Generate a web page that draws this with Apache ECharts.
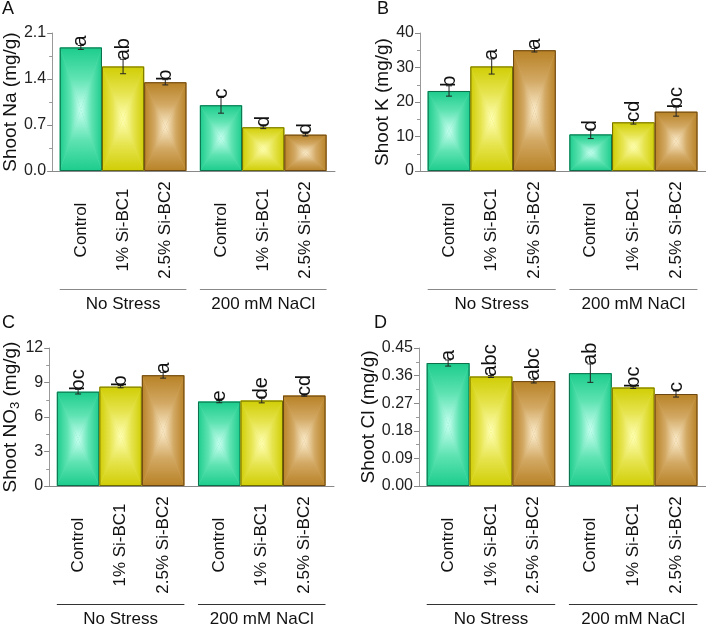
<!DOCTYPE html>
<html><head><meta charset="utf-8">
<script src="https://cdn.jsdelivr.net/npm/echarts@6/dist/echarts.min.js"></script>
<style>html,body{margin:0;padding:0;background:#fff}#c{width:706px;height:625px}</style>
</head><body><div id="c"></div>
<script>
// ---- data ----
const treatments = ['Control', '1% Si-BC1', '2.5% Si-BC2'];
const groups = ['No Stress', '200 mM NaCl'];
const panelLabels = ['A', 'B', 'C', 'D'];

const naMean = [1.88, 1.59, 1.35, 1.00, 0.665, 0.553];
const naErr = [0.03, 0.11, 0.04, 0.12, 0.02, 0.02];
const naLetters = ['a', 'ab', 'b', 'c', 'd', 'd'];
const naTicks = [0, 0.7, 1.4, 2.1];

const kMean = [23.2, 30.3, 35.0, 10.6, 14.1, 17.2];
const kErr = [1.5, 2.2, 0.5, 1.2, 0.5, 1.3];
const kLetters = ['b', 'a', 'a', 'd', 'cd', 'bc'];
const kTicks = [0, 10, 20, 30, 40];

const no3Mean = [8.2, 8.64, 9.63, 7.34, 7.43, 7.86];
const no3Err = [0.2, 0.1, 0.25, 0.1, 0.2, 0.05];
const no3Letters = ['bc', 'b', 'a', 'e', 'de', 'cd'];
const no3Ticks = [0, 3, 6, 9, 12];

const clMean = [0.401, 0.357, 0.342, 0.368, 0.321, 0.300];
const clErr = [0.01, 0.003, 0.006, 0.03, 0.003, 0.01];
const clLetters = ['a', 'abc', 'abc', 'ab', 'bc', 'c'];
const clTicks = [0, 0.09, 0.18, 0.27, 0.36, 0.45];

// ---- styling ----
const FONT = '"Liberation Sans", Arial, Helvetica, sans-serif';
const palette = [
  {edge: '#1ccc8c', mid: '#5fe3b3', center: '#c8fff0', border: '#0c6e4a'},
  {edge: '#d0cd05', mid: '#e6e44e', center: '#ffffb4', border: '#6e6b00'},
  {edge: '#b88226', mid: '#d2a863', center: '#fbeccc', border: '#6a4612'}
];

const panels = [
  {mean: naMean, err: naErr, letters: naLetters, ticks: naTicks, dec: 1, name: 'Shoot Na (mg/g)', nameGap: 22,
   grid: {left: 48, top: 33, width: 287, height: 138}, title: {left: 2, top: 0}, gline: '#888'},
  {mean: kMean, err: kErr, letters: kLetters, ticks: kTicks, dec: 0, name: 'Shoot K (mg/g)', nameGap: 22,
   grid: {left: 420, top: 33, width: 286, height: 138}, title: {left: 377, top: 0}, gline: '#888'},
  {mean: no3Mean, err: no3Err, letters: no3Letters, ticks: no3Ticks, dec: 0, name: '{t|Shoot NO}{s|3}{t| (mg/g)}', nameGap: 22,
   grid: {left: 41, top: 348, width: 293, height: 138}, title: {left: 2, top: 314}, gline: '#333'},
  {mean: clMean, err: clErr, letters: clLetters, ticks: clTicks, dec: 2, name: 'Shoot Cl (mg/g)', nameGap: 35,
   grid: {left: 419, top: 348, width: 287, height: 138}, title: {left: 374, top: 314}, gline: '#333'}
];

const X0 = 0.18, GSTEP = 3.32, XMAX = 6.7;
function barCenter(i) { return X0 + Math.floor(i / 3) * GSTEP + (i % 3) + 0.5; }

function lin(x, y, x2, y2, c0, c1, c2) {
  return {type: 'linear', x: x, y: y, x2: x2, y2: y2, global: false,
    colorStops: [{offset: 0, color: c0}, {offset: 0.5, color: c1}, {offset: 1, color: c2}]};
}

function barSeries(pi, p) {
  return {
    type: 'custom', xAxisIndex: pi, yAxisIndex: pi, clip: false, silent: true,
    encode: {x: 0, y: 1},
    data: p.mean.map((m, i) => [barCenter(i), m, p.err[i]]),
    renderItem: function (params, api) {
      const i = params.dataIndex;
      const c = palette[i % 3];
      const xc = api.value(0), m = api.value(1), e = api.value(2);
      const tl = api.coord([xc - 0.5, m]);
      const br = api.coord([xc + 0.5, 0]);
      const x = tl[0], y = tl[1], w = br[0] - tl[0], h = br[1] - tl[1];
      const cx = x + w / 2, cy = y + h / 2;
      const top = api.coord([xc, m + e]);
      const bot = api.coord([xc, m - e]);
      const axisY = br[1];
      const kids = [
        {type: 'rect', shape: {x: x, y: y, width: w, height: h}, style: {fill: c.mid}},
        {type: 'polygon', shape: {points: [[x, y], [x, y + h], [cx, cy]]}, style: {fill: lin(0, 0, 1, 0, c.edge, c.mid, c.center)}},
        {type: 'polygon', shape: {points: [[x + w, y], [x + w, y + h], [cx, cy]]}, style: {fill: lin(0, 0, 1, 0, c.center, c.mid, c.edge)}},
        {type: 'polygon', shape: {points: [[x, y], [x + w, y], [cx, cy]]}, style: {fill: lin(0, 0, 0, 1, c.edge, c.mid, c.center)}},
        {type: 'polygon', shape: {points: [[x, y + h], [x + w, y + h], [cx, cy]]}, style: {fill: lin(0, 0, 0, 1, c.center, c.mid, c.edge)}},
        {type: 'rect', shape: {x: x + 0.5, y: y + 0.5, width: w - 1, height: h - 1}, style: {fill: null, stroke: c.border, lineWidth: 1}},
        {type: 'line', shape: {x1: top[0], y1: top[1], x2: bot[0], y2: bot[1]}, style: {stroke: '#222', lineWidth: 1}},
        {type: 'line', shape: {x1: top[0] - 3, y1: top[1], x2: top[0] + 3, y2: top[1]}, style: {stroke: '#222', lineWidth: 1}},
        {type: 'line', shape: {x1: bot[0] - 3, y1: bot[1], x2: bot[0] + 3, y2: bot[1]}, style: {stroke: '#222', lineWidth: 1}},
        {type: 'text', x: top[0], y: top[1] + 1, rotation: Math.PI / 2,
          style: {text: p.letters[i], fontSize: 20, fontFamily: FONT, fill: '#111', align: 'left', verticalAlign: 'middle'}},
        {type: 'text', x: cx, y: axisY + 59, rotation: Math.PI / 2,
          style: {text: treatments[i % 3], fontSize: 17, fontFamily: FONT, fill: '#111', align: 'center', verticalAlign: 'middle'}}
      ];
      return {type: 'group', children: kids};
    }
  };
}

function groupSeries(pi, p) {
  return {
    type: 'custom', xAxisIndex: pi, yAxisIndex: pi, clip: false, silent: true,
    encode: {x: 0, y: 1},
    data: groups.map((g, gi) => [X0 + gi * GSTEP, 0]),
    renderItem: function (params, api) {
      const gi = params.dataIndex;
      const l = api.coord([api.value(0), 0]);
      const r = api.coord([api.value(0) + 3, 0]);
      const yl = l[1] + 118;
      return {type: 'group', children: [
        {type: 'line', shape: {x1: l[0], y1: yl + 0.5, x2: r[0], y2: yl + 0.5}, style: {stroke: p.gline, lineWidth: 1}},
        {type: 'text', x: (l[0] + r[0]) / 2, y: l[1] + 133,
          style: {text: groups[gi], fontSize: 17, fontFamily: FONT, fill: '#111', align: 'center', verticalAlign: 'middle'}}
      ]};
    }
  };
}

const option = {
  animation: false,
  backgroundColor: '#fff',
  title: panels.map((p, pi) => ({text: panelLabels[pi], left: p.title.left, top: p.title.top, padding: 0,
    textStyle: {fontSize: 18, fontWeight: 'normal', fontFamily: FONT, color: '#111'}})),
  grid: panels.map(p => p.grid),
  xAxis: panels.map((p, pi) => ({
    type: 'value', gridIndex: pi, min: 0, max: XMAX,
    axisLine: {show: true, lineStyle: {color: '#888', width: 1}},
    axisTick: {show: false}, axisLabel: {show: false}, splitLine: {show: false}
  })),
  yAxis: panels.map((p, pi) => ({
    type: 'value', gridIndex: pi, min: p.ticks[0], max: p.ticks[p.ticks.length - 1],
    interval: p.ticks[1] - p.ticks[0],
    name: p.name, nameLocation: 'middle', nameGap: p.nameGap, nameRotate: 90,
    nameTextStyle: {fontSize: 19, fontFamily: FONT, color: '#111',
      rich: {t: {fontSize: 19, fontFamily: FONT, color: '#111', lineHeight: 22, verticalAlign: 'middle'},
             s: {fontSize: 13, fontFamily: FONT, color: '#111', lineHeight: 13, verticalAlign: 'bottom'}}},
    axisLine: {show: true, lineStyle: {color: '#999', width: 1}},
    axisTick: {show: true, inside: false, length: 5, lineStyle: {color: '#888'}},
    minorTick: {show: true, splitNumber: 2, length: 3, lineStyle: {color: '#999'}},
    axisLabel: {fontSize: 16, fontFamily: FONT, color: '#222', margin: 6,
      formatter: v => Number(v).toFixed(p.dec)},
    splitLine: {show: false}, minorSplitLine: {show: false}
  })),
  series: panels.flatMap((p, pi) => [barSeries(pi, p), groupSeries(pi, p)])
};

const chart = echarts.init(document.getElementById('c'), null, {renderer: 'canvas'});
chart.setOption(option);
</script>
</body></html>
